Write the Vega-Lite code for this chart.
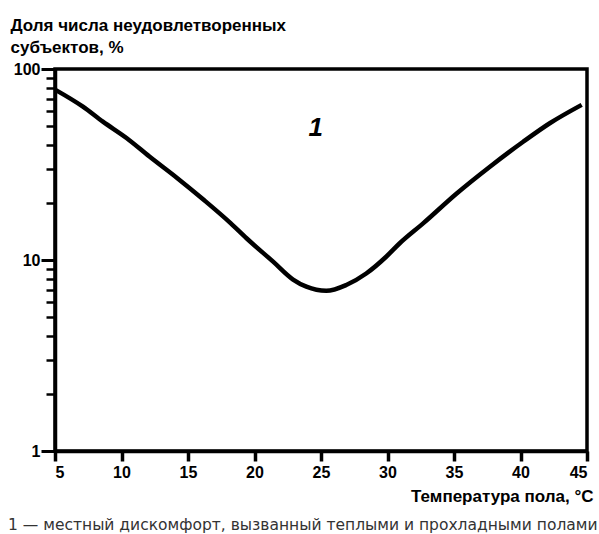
{
  "$schema": "https://vega.github.io/schema/vega-lite/v6.json",
  "width": 532,
  "height": 382,
  "autosize": {"type": "none"},
  "padding": {"left": 55, "top": 69, "right": 12, "bottom": 83},
  "background": "white",
  "title": {
    "text": "1 — местный дискомфорт, вызванный теплыми и прохладными полами",
    "orient": "bottom",
    "anchor": "start",
    "frame": "group",
    "font": "DejaVu Sans",
    "fontSize": 15.5,
    "fontWeight": "normal",
    "color": "#333333",
    "dx": -47,
    "offset": 14
  },
  "config": {
    "view": {"stroke": "black", "strokeWidth": 3.5},
    "axis": {
      "grid": false,
      "domainColor": "black",
      "domainWidth": 3.5,
      "labelFont": "Liberation Sans",
      "labelFontWeight": "bold",
      "labelFontSize": 16,
      "labelColor": "black",
      "titleFont": "Liberation Sans",
      "titleFontWeight": "bold",
      "titleFontSize": 17,
      "titleColor": "black"
    }
  },
  "resolve": {"axis": {"y": "independent"}, "scale": {"y": "shared"}},
  "layer": [
    {
      "data": {
        "values": [
          {"T": 5.0, "v": 78},
          {"T": 7.1, "v": 63.5},
          {"T": 8.6, "v": 53},
          {"T": 10.4, "v": 43.4},
          {"T": 12.1, "v": 34.8},
          {"T": 14.2, "v": 26.8},
          {"T": 16.2, "v": 20.6},
          {"T": 18.2, "v": 15.6},
          {"T": 19.4, "v": 13.0},
          {"T": 21.4, "v": 9.8},
          {"T": 22.9, "v": 7.9},
          {"T": 23.9, "v": 7.25},
          {"T": 25.4, "v": 6.9},
          {"T": 26.9, "v": 7.4},
          {"T": 28.4, "v": 8.5},
          {"T": 29.9, "v": 10.4},
          {"T": 30.9, "v": 12.2},
          {"T": 32.7, "v": 15.6},
          {"T": 35.2, "v": 22.3},
          {"T": 37.7, "v": 30.8},
          {"T": 40.2, "v": 41.6},
          {"T": 42.2, "v": 52},
          {"T": 44.6, "v": 64.9}
        ]
      },
      "mark": {"type": "line", "interpolate": "monotone", "color": "black", "strokeWidth": 4.5},
      "encoding": {
        "x": {
          "field": "T",
          "type": "quantitative",
          "scale": {"domain": [5, 45], "nice": false},
          "axis": {
            "values": [5, 10, 15, 20, 25, 30, 35, 40, 45],
            "ticks": true,
            "tickSize": 10,
            "tickWidth": 3.5,
            "tickColor": "black",
            "labelPadding": 3,
            "title": "Температура пола, °C",
            "titleAnchor": "end",
            "titleAlign": "right",
            "titleX": 538,
            "titleY": 45,
            "titleBaseline": "middle"
          }
        },
        "y": {
          "field": "v",
          "type": "quantitative",
          "scale": {"type": "log", "domain": [1, 100], "nice": false},
          "axis": {
            "orient": "left",
            "values": [1, 10, 100],
            "ticks": true,
            "tickSize": 14,
            "tickWidth": 3,
            "tickColor": "black",
            "labelPadding": 1,
            "title": ["Доля числа неудовлетворенных", "субъектов, %"],
            "titleAngle": 0,
            "titleAlign": "left",
            "titleBaseline": "top",
            "titleX": -45,
            "titleY": -52,
            "titleLineHeight": 22
          }
        }
      }
    },
    {
      "data": {"values": [{"T": 24.6, "v": 49, "label": "1"}]},
      "mark": {"type": "text", "font": "Liberation Sans", "fontWeight": "bold", "fontStyle": "italic", "fontSize": 26, "color": "black"},
      "encoding": {
        "x": {
          "field": "T",
          "type": "quantitative",
          "axis": {
            "values": [5, 10, 15, 20, 25, 30, 35, 40, 45],
            "ticks": true,
            "tickSize": 10,
            "tickWidth": 3.5,
            "tickColor": "black",
            "labelPadding": 3,
            "title": "Температура пола, °C",
            "titleAnchor": "end",
            "titleAlign": "right",
            "titleX": 538,
            "titleY": 45,
            "titleBaseline": "middle"
          }
        },
        "y": {
          "field": "v",
          "type": "quantitative",
          "axis": {
            "orient": "left",
            "values": [2, 3, 4, 5, 6, 7, 8, 9, 20, 30, 40, 50, 60, 70, 80, 90],
            "labels": false,
            "domain": false,
            "ticks": true,
            "tickSize": 9,
            "tickWidth": 2.5,
            "tickColor": "black",
            "title": null
          }
        },
        "text": {"field": "label"}
      }
    }
  ]
}
